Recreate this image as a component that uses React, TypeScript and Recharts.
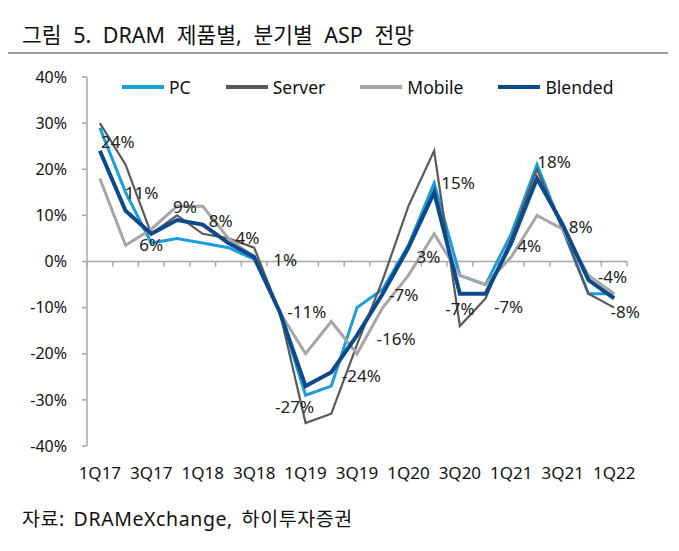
import { LineChart, Line, XAxis, YAxis, Legend, LabelList, ReferenceLine } from "recharts";

const QUARTERS = [
  "1Q17", "2Q17", "3Q17", "4Q17",
  "1Q18", "2Q18", "3Q18", "4Q18",
  "1Q19", "2Q19", "3Q19", "4Q19",
  "1Q20", "2Q20", "3Q20", "4Q20",
  "1Q21", "2Q21", "3Q21", "4Q21",
  "1Q22",
];

// QoQ ASP change, %
const PC = [29, 15, 4, 5, 4, 3, 0.5, -11, -29, -27, -10, -6, 3.5, 17, -3, -5, 6, 21, 7, -7, -7];
const SERVER = [30, 21, 6, 10, 6, 5, 3, -11, -35, -33, -18, -4, 12, 24, -14, -8, 5, 20, 7, -7, -10];
const MOBILE = [18, 3.5, 7, 12, 12, 5, 1, -11, -20, -13, -20, -10, -3, 6, -3, -5, 1, 10, 7, -3, -7];
const BLENDED = [24, 11, 6, 9, 8, 4, 1, -11, -27, -24, -16, -7, 3, 15, -7, -7, 4, 18, 8, -4, -8];

const SERIES_NAMES = ["PC", "Server", "Mobile", "Blended"];

const Y_TICKS = [-40, -30, -20, -10, 0, 10, 20, 30, 40];

const FONT = '"Noto Sans", "Noto Sans CJK KR", sans-serif';
const AXIS_GRAY = "#a6a6a6";

const COLORS: Record<string, string> = {
  PC: "#1a9ddb",
  Server: "#595959",
  Mobile: "#a6a6a6",
  Blended: "#0d4a8c",
};

// where each Blended label sits relative to its point (hand placed, like the original)
const LABEL_SHIFT: [number, number][] = [
  [18, -9], [16, -18], [0, 11], [8, -13], [18, -4], [19, -6], [31, 3],
  [27, -1], [-11, 20], [30, 3], [39, 3], [21, 1], [20, 9], [24, -10],
  [0, 15], [23, 13], [18, 2], [17, -17], [18, 2], [24, -3], [11, 13],
];

const data = QUARTERS.map((q, i) => ({
  idx: i,
  quarter: q,
  PC: PC[i],
  Server: SERVER[i],
  Mobile: MOBILE[i],
  Blended: BLENDED[i],
}));

const xTicks = QUARTERS.map((_, i) => i).filter((i) => i % 2 === 0);
const boundaries = QUARTERS.map((_, i) => i - 0.5).concat(QUARTERS.length - 0.5);

const renderBlendedLabel = (props: any) => {
  const { x, y, value, index } = props;
  const [dx, dy] = LABEL_SHIFT[index] ?? [0, 0];
  return (
    <text
      x={x + dx}
      y={y + dy}
      textAnchor="middle"
      dominantBaseline="central"
      fontSize={17}
      fontFamily={FONT}
      fill="#222"
    >
      {`${value}%`}
    </text>
  );
};

const renderLegend = (props: any) => {
  const items = [...(props.payload ?? [])].sort(
    (a: any, b: any) => SERIES_NAMES.indexOf(a.value) - SERIES_NAMES.indexOf(b.value)
  );
  return (
    <div style={{ display: "flex", alignItems: "center", fontFamily: FONT, fontSize: 17.5, color: "#111" }}>
      {items.map((p: any) => (
        <div key={p.value} style={{ display: "flex", alignItems: "center", marginRight: 35 }}>
          <svg width={42} height={6} style={{ marginRight: 5 }}>
            <line x1={0} y1={3} x2={42} y2={3} stroke={COLORS[p.value] ?? p.color} strokeWidth={4} />
          </svg>
          <span>{p.value}</span>
        </div>
      ))}
    </div>
  );
};

export default function App() {
  return (
    <div style={{ position: "absolute", left: 0, top: 0, width: 679, height: 551, background: "#fff", fontFamily: FONT }}>
      <div style={{ position: "absolute", left: 22, top: 18, fontSize: 21.5, color: "#111", whiteSpace: "nowrap", wordSpacing: 6 }}>
        그림 5. DRAM 제품별, 분기별 ASP 전망
      </div>
      <div style={{ position: "absolute", left: 8, top: 52, width: 660, height: 2, background: "#9a9a9a" }} />

      <LineChart
        width={679}
        height={551}
        data={data}
        margin={{ top: 77, right: 52, left: 27, bottom: 75 }}
      >
        <XAxis
          dataKey="idx"
          type="number"
          domain={[-0.5, QUARTERS.length - 0.5]}
          ticks={xTicks}
          tickFormatter={(i: number) => QUARTERS[i]}
          axisLine={false}
          tickLine={false}
          tickSize={0}
          tickMargin={21}
          height={30}
          interval={0}
          tick={{ fontSize: 17, fill: "#111", fontFamily: FONT }}
        />
        <YAxis
          domain={[-40, 40]}
          ticks={Y_TICKS}
          tickFormatter={(v: number) => `${v}%`}
          width={60}
          axisLine={{ stroke: AXIS_GRAY, strokeWidth: 1.5 }}
          tickLine={{ stroke: AXIS_GRAY, strokeWidth: 1.5 }}
          tickSize={5}
          tickMargin={15}
          tick={{ fontSize: 16, fill: "#111", fontFamily: FONT }}
        />
        <ReferenceLine y={0} stroke={AXIS_GRAY} strokeWidth={1.5} />
        {boundaries.map((b) => (
          <ReferenceLine
            key={b}
            segment={[{ x: b, y: 0 }, { x: b, y: -1.1 }]}
            stroke={AXIS_GRAY}
            strokeWidth={1.5}
          />
        ))}
        <Legend
          layout="horizontal"
          verticalAlign="middle"
          align="center"
          content={renderLegend}
          wrapperStyle={{ top: 75, left: 122, width: 540, height: 22 }}
        />
        <Line type="linear" dataKey="PC" name="PC" stroke={COLORS.PC} strokeWidth={3} dot={false} isAnimationActive={false} />
        <Line type="linear" dataKey="Server" name="Server" stroke={COLORS.Server} strokeWidth={2.2} dot={false} isAnimationActive={false} />
        <Line type="linear" dataKey="Mobile" name="Mobile" stroke={COLORS.Mobile} strokeWidth={3} dot={false} isAnimationActive={false} />
        <Line type="linear" dataKey="Blended" name="Blended" stroke={COLORS.Blended} strokeWidth={4} dot={false} isAnimationActive={false}>
          <LabelList dataKey="Blended" content={renderBlendedLabel} />
        </Line>
      </LineChart>

      <div style={{ position: "absolute", left: 22, top: 503, fontSize: 19.5, color: "#111", whiteSpace: "nowrap", letterSpacing: 0.6, wordSpacing: 3 }}>
        자료: DRAMeXchange, 하이투자증권
      </div>
    </div>
  );
}
